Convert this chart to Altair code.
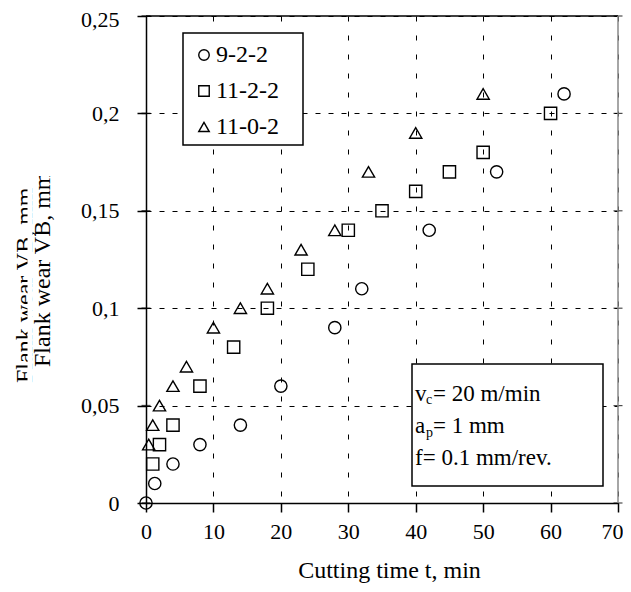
import altair as alt
import pandas as pd

# ---- data ----
series_names = ["9-2-2", "11-2-2", "11-0-2"]
series_shapes = ["circle", "square", "triangle-up"]

t_922 = [0, 1.3, 4, 8, 14, 20, 28, 32, 42, 52, 62]
vb_922 = [0, 0.01, 0.02, 0.03, 0.04, 0.06, 0.09, 0.11, 0.14, 0.17, 0.21]

t_1122 = [1, 2, 4, 8, 13, 18, 24, 30, 35, 40, 45, 50, 60]
vb_1122 = [0.02, 0.03, 0.04, 0.06, 0.08, 0.10, 0.12, 0.14, 0.15, 0.16, 0.17, 0.18, 0.20]

t_1102 = [0.4, 1, 2, 4, 6, 10, 14, 18, 23, 28, 33, 40, 50]
vb_1102 = [0.03, 0.04, 0.05, 0.06, 0.07, 0.09, 0.10, 0.11, 0.13, 0.14, 0.17, 0.19, 0.21]

x_ticks = [0, 10, 20, 30, 40, 50, 60, 70]
y_ticks = [0, 0.05, 0.10, 0.15, 0.20, 0.25]

x_title = "Cutting time t, min"
y_title = "Flank wear VB, mm"

FONT = "Liberation Serif"

rows = []
for name, ts, vs in [(series_names[0], t_922, vb_922),
                     (series_names[1], t_1122, vb_1122),
                     (series_names[2], t_1102, vb_1102)]:
    for t, v in zip(ts, vs):
        rows.append({"t": t, "vb": v, "series": name})
df = pd.DataFrame(rows)

one = pd.DataFrame({"k": [0]})
ytick_df = pd.DataFrame({"v": y_ticks})

xscale = alt.Scale(domain=[0, 70], nice=False, zero=False)
yscale = alt.Scale(domain=[0, 0.25], nice=False, zero=False)

points = alt.Chart(df).mark_point(filled=False, color="black", strokeWidth=1.4, size=150, opacity=1).encode(
    x=alt.X("t:Q", scale=xscale,
            axis=alt.Axis(values=x_ticks, title=x_title, titleX=243, titleY=74,
                          titleBaseline="alphabetic", gridDash=[5, 14], labelFlush=False,
                          labelOffset={"expr": "datum.value == 70 ? -6 : 0"},
                          labelFont=FONT, titleFont=FONT)),
    y=alt.Y("vb:Q", scale=yscale,
            axis=alt.Axis(values=y_ticks, title=None, gridDash=[5, 8], labelFlush=False,
                          labelFont=FONT,
                          labelOffset={"expr": "datum.value > 0.24 ? 3 : 0"},
                          labelExpr="replace(toString(datum.value), '.', ',')")),
    shape=alt.Shape("series:N",
                    scale=alt.Scale(domain=series_names, range=series_shapes),
                    legend=alt.Legend(title=None, orient="none", legendX=46, legendY=27,
                                      labelFont=FONT, labelFontSize=24, labelColor="black",
                                      symbolSize=110, symbolStrokeWidth=1.4,
                                      symbolStrokeColor="black", symbolFillColor="white",
                                      rowPadding=12, labelOffset=0)),
)

# inner ticks on the left axis and on the right border
inner_left = alt.Chart(ytick_df).mark_tick(orient="horizontal", size=9, thickness=1.5, color="black").encode(
    x=alt.value(0), y=alt.Y("v:Q", scale=yscale))
inner_right = alt.Chart(ytick_df).mark_tick(orient="horizontal", size=9, thickness=1.2, color="black").encode(
    x=alt.value(472), y=alt.Y("v:Q", scale=yscale))

# borders: top (black) and right (gray)
top_rule = alt.Chart(one).mark_rule(color="black", strokeWidth=1.5).encode(
    x=alt.value(0), x2=alt.value(472), y=alt.value(0))
right_rule = alt.Chart(one).mark_rule(color="#888888", strokeWidth=1.5).encode(
    x=alt.value(472), y=alt.value(0), y2=alt.value(487))


def box(x1, x2, y1, y2, fill="white", stroke="black", sw=1.5):
    return alt.Chart(one).mark_rect(fill=fill, stroke=stroke, strokeWidth=sw).encode(
        x=alt.value(x1), x2=alt.value(x2), y=alt.value(y1), y2=alt.value(y2))


def label(txt, x, y, size, angle=0):
    return alt.Chart(one).mark_text(text=txt, font=FONT, fontSize=size, color="black",
                                    align="left", baseline="alphabetic", angle=angle).encode(
        x=alt.value(x), y=alt.value(y))


legend_box = box(37, 157, 17, 129)
info_box = box(266, 457, 348, 470)

info = [
    label("v", 269, 385, 23),
    label("c", 280, 388, 14),
    label("= 20 m/min", 287, 385, 23),
    label("a", 269, 417, 23),
    label("p", 280, 421, 14),
    label("= 1 mm", 287, 417, 23),
    label("f= 0.1 mm/rev.", 269, 449, 23),
]

# y-axis title, as it appears (doubled and clipped) in the reference
ghost_title = label(y_title, -114, 367, 24, angle=270)
ghost_clip = box(-118.5, -113.5, 140, 380, fill="white", stroke="white", sw=0)
real_title = label(y_title, -96, 351, 24, angle=270)
real_clip = box(-146, -80, -16, 160, fill="white", stroke="white", sw=0)

chart = alt.layer(
    legend_box, info_box, points, inner_left, inner_right, top_rule, right_rule, *info,
    ghost_title, ghost_clip, real_title, real_clip,
).properties(
    width=472, height=487,
    autosize=alt.AutoSizeParams(type="none"),
    padding={"left": 138, "top": 8, "right": 5, "bottom": 80},
    background="white",
).configure_view(stroke=None).configure_axis(
    labelFont=FONT, labelFontSize=22, labelColor="black",
    titleFont=FONT, titleFontSize=24, titleColor="black", titleFontWeight="normal",
    domainColor="black", domainWidth=1.5, tickColor="black", tickWidth=1.5,
    tickSize=9, gridColor="black", gridOpacity=1, gridWidth=1,
).configure_axisX(labelPadding=9).configure_axisY(labelPadding=18)

chart.save("out.html", embed_options={"renderer": "svg", "actions": False})
